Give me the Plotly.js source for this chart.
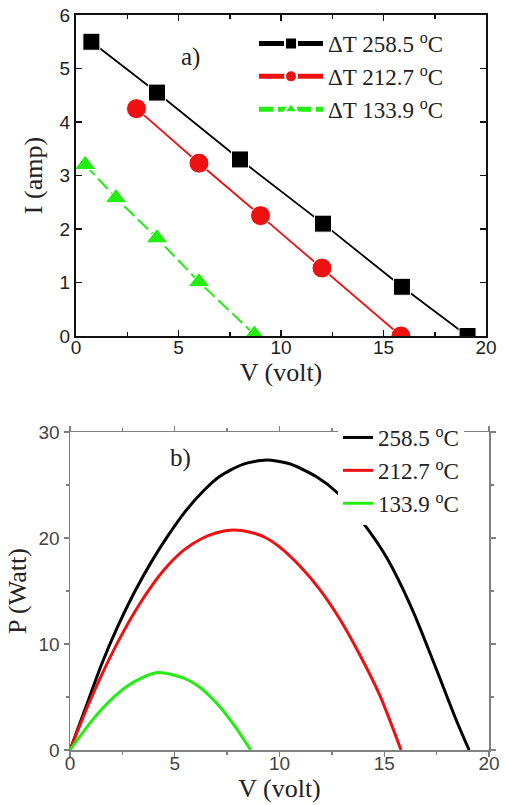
<!DOCTYPE html>
<html>
<head>
<meta charset="utf-8">
<script src="https://cdn.plot.ly/plotly-3.0.1.min.js"></script>
<style>html,body{margin:0;padding:0;background:#fff;}#chart{width:505px;height:805px;}</style>
</head>
<body>
<div id="chart"></div>
<script>
// ---- Panel a) I-V data ----
const seriesNamesA = ["ΔT 258.5 <sup>o</sup>C", "ΔT 212.7 <sup>o</sup>C", "ΔT 133.9 <sup>o</sup>C"];
const vBlackA = [0.75, 3.95, 8.0, 12.05, 15.9, 19.1];
const iBlackA = [5.5, 4.55, 3.3, 2.1, 0.92, 0.0];
const vRedA = [2.95, 6.0, 9.0, 12.0, 15.85];
const iRedA = [4.25, 3.23, 2.25, 1.27, 0.0];
const vGreenA = [0.45, 1.95, 3.95, 6.0, 8.7];
const iGreenA = [3.2, 2.58, 1.83, 1.01, 0.03];

// ---- Panel b) P-V data ----
const seriesNamesB = ["258.5 <sup>o</sup>C", "212.7 <sup>o</sup>C", "133.9 <sup>o</sup>C"];
const vBlackB = [0, 0.86, 1.49, 2.29, 3.08, 3.87, 4.67, 5.46, 6.4, 7.14, 8.25, 9.37, 10.48, 11.75, 12.8, 14.0, 15.1, 16.35, 17.45, 18.4, 19.05];
const pBlackB = [0, 4.6, 8.0, 11.7, 14.9, 17.7, 20.2, 22.4, 24.5, 25.8, 26.95, 27.35, 27.0, 25.8, 24.2, 21.4, 18.2, 13.2, 7.8, 3.0, 0];
const vRedB = [0, 0.86, 1.49, 2.29, 3.08, 3.87, 4.67, 5.46, 6.3, 7.0, 7.78, 8.6, 9.37, 10.1, 10.95, 11.9, 12.86, 13.8, 14.8, 15.8];
const pRedB = [0, 4.2, 7.0, 10.2, 13.0, 15.4, 17.4, 18.9, 19.95, 20.5, 20.75, 20.55, 20.0, 19.0, 17.4, 15.2, 12.4, 9.1, 5.1, 0];
const vGreenB = [0, 0.86, 1.49, 2.29, 3.08, 4.2, 5.46, 6.3, 7.14, 7.9, 8.62];
const pGreenB = [0, 2.3, 3.8, 5.35, 6.45, 7.3, 6.75, 5.75, 4.1, 2.15, 0];

const BLACK = "#000000", RED = "#ee1111", GREEN = "#22ee11";
const W = 505, H = 805;
const px = v => v / W;
const py = v => (H - v) / H;

const traces = [
  {x: vBlackA, y: iBlackA, name: seriesNamesA[0], mode: "lines+markers", xaxis: "x", yaxis: "y", legend: "legend",
   line: {color: BLACK, width: 1.8}, marker: {symbol: "square", size: 17, color: BLACK, line: {color: "#fff", width: 1}}},
  {x: vRedA, y: iRedA, name: seriesNamesA[1], mode: "lines+markers", xaxis: "x", yaxis: "y", legend: "legend",
   line: {color: RED, width: 1.8}, marker: {symbol: "circle", size: 20, color: RED, line: {color: "#fff", width: 1}}},
  {x: vGreenA, y: iGreenA, name: seriesNamesA[2], mode: "lines+markers", xaxis: "x", yaxis: "y", legend: "legend",
   line: {color: GREEN, width: 2, dash: "14px,5px"}, marker: {symbol: "triangle-up", size: 19, color: GREEN, line: {color: "#fff", width: 1}}},
  {x: vBlackB, y: pBlackB, name: seriesNamesB[0], mode: "lines", xaxis: "x2", yaxis: "y2", legend: "legend2",
   line: {color: BLACK, width: 3, shape: "spline", smoothing: 0.7}},
  {x: vRedB, y: pRedB, name: seriesNamesB[1], mode: "lines", xaxis: "x2", yaxis: "y2", legend: "legend2",
   line: {color: RED, width: 3, shape: "spline", smoothing: 0.7}},
  {x: vGreenB, y: pGreenB, name: seriesNamesB[2], mode: "lines", xaxis: "x2", yaxis: "y2", legend: "legend2",
   line: {color: GREEN, width: 3, shape: "spline", smoothing: 0.7}}
];

const serif = "Liberation Serif, Times New Roman, serif";
const sans = "Liberation Sans, Arial, sans-serif";

const layout = {
  width: W, height: H,
  margin: {l: 0, r: 0, t: 0, b: 0},
  paper_bgcolor: "#fff", plot_bgcolor: "#fff",
  showlegend: true,
  xaxis: {
    domain: [px(76), px(486)], anchor: "y", range: [0, 20], dtick: 5, tick0: 0,
    showgrid: false, zeroline: false, showline: true, linecolor: "#111", linewidth: 2, mirror: "ticks",
    ticks: "inside", ticklen: 6, tickwidth: 1.5, tickcolor: "#111",
    minor: {ticks: "inside", dtick: 2.5, ticklen: 4, tickcolor: "#111"},
    tickfont: {family: sans, size: 19, color: "#222"}, ticklabelstandoff: -7,
    title: {text: "V (volt)", font: {family: serif, size: 26, color: "#222"}, standoff: 0}
  },
  yaxis: {
    domain: [py(336), py(15)], anchor: "x", range: [0, 6], dtick: 1,
    showgrid: false, zeroline: false, showline: true, linecolor: "#111", linewidth: 2, mirror: "ticks",
    ticks: "inside", ticklen: 6, tickwidth: 1.5, tickcolor: "#111",
    tickfont: {family: sans, size: 19, color: "#222"},
    title: {text: "I (amp)", font: {family: serif, size: 26, color: "#222"}, standoff: 10}
  },
  xaxis2: {
    domain: [px(70), px(489)], anchor: "y2", range: [0, 20], dtick: 5, tick0: 0,
    showgrid: false, zeroline: false, showline: true, linecolor: "#808080", linewidth: 1.5, mirror: "ticks",
    ticks: "outside", ticklen: 5, tickwidth: 1.3, tickcolor: "#808080",
    minor: {ticks: "outside", dtick: 2.5, ticklen: 3, tickcolor: "#808080"},
    tickfont: {family: sans, size: 19, color: "#444"}, ticklabelstandoff: -9,
    title: {text: "V (volt)", font: {family: serif, size: 26, color: "#222"}, standoff: 4}
  },
  yaxis2: {
    domain: [py(750), py(432)], anchor: "x2", range: [0, 30], dtick: 10,
    showgrid: false, zeroline: false, showline: true, linecolor: "#808080", linewidth: 1.5, mirror: "ticks",
    ticks: "outside", ticklen: 5, tickwidth: 1.3, tickcolor: "#808080",
    minor: {ticks: "outside", dtick: 5, ticklen: 3, tickcolor: "#808080"},
    tickfont: {family: sans, size: 19, color: "#444"},
    title: {text: "P (Watt)", font: {family: serif, size: 26, color: "#222"}, standoff: 4}
  },
  legend: {
    x: px(254), y: py(22), xanchor: "left", yanchor: "top",
    bgcolor: "rgba(255,255,255,0)", borderwidth: 0, itemwidth: 64,
    font: {family: serif, size: 23, color: "#222"}, itemsizing: "constant", tracegroupgap: 0
  },
  legend2: {
    x: px(338), y: py(416), xanchor: "left", yanchor: "top",
    bgcolor: "#fff", borderwidth: 0,
    font: {family: serif, size: 23, color: "#222"}, tracegroupgap: 0
  },
  annotations: [
    {text: "a)", xref: "paper", yref: "paper", x: px(190), y: py(41), showarrow: false,
     font: {family: serif, size: 25, color: "#222"}},
    {text: "b)", xref: "paper", yref: "paper", x: px(168), y: py(458), showarrow: false,
     font: {family: serif, size: 25, color: "#222"}}
  ]
};

Plotly.newPlot("chart", traces, layout, {displayModeBar: false, staticPlot: true});
</script>
</body>
</html>
